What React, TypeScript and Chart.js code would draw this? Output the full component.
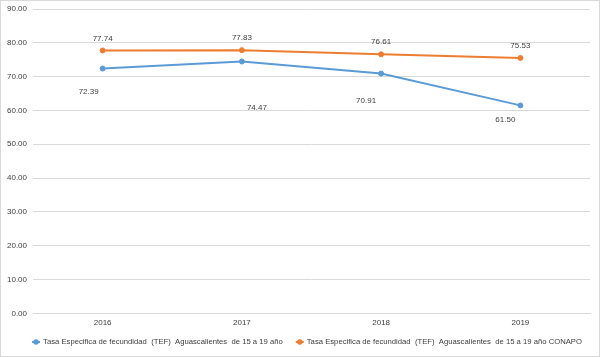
import React, { useEffect, useRef } from "react";
import { Chart, registerables } from "chart.js";

Chart.register(...registerables);

const categories = ["2016", "2017", "2018", "2019"];
const seriesAgs = [72.39, 74.47, 70.91, 61.5];
const seriesConapo = [77.74, 77.83, 76.61, 75.53];
const labelAgs = "Tasa Especifica de fecundidad  (TEF)  Aguascalientes  de 15 a 19 año";
const labelConapo = "Tasa Especifica de fecundidad  (TEF)  Aguascalientes  de 15 a 19 año CONAPO";

const FONT_FAMILY = "'Liberation Sans', Arial, sans-serif";

// label offsets (style) for data labels of the first series
const agsLabelOffsets = [
  [-14, 23],
  [15, 46],
  [-15, 27],
  [-15, 14],
];

const dataLabelPlugin = {
  id: "dataLabels",
  afterDatasetsDraw(chart: any) {
    const ctx = chart.ctx;
    ctx.save();
    ctx.font = `8px ${FONT_FAMILY}`;
    ctx.fillStyle = "#404040";
    ctx.textAlign = "center";
    ctx.textBaseline = "middle";
    chart.data.datasets.forEach((ds: any, di: number) => {
      const meta = chart.getDatasetMeta(di);
      meta.data.forEach((pt: any, i: number) => {
        const v = ds.data[i] as number;
        let dx = 0;
        let dy = -12;
        if (di === 0) {
          dx = agsLabelOffsets[i][0];
          dy = agsLabelOffsets[i][1];
        }
        ctx.fillText(v.toFixed(2), pt.x + dx, pt.y + dy);
      });
    });
    ctx.restore();
  },
};

const customLegendPlugin = {
  id: "customLegend",
  afterDraw(chart: any) {
    const ctx = chart.ctx;
    ctx.save();
    ctx.font = `7.7px ${FONT_FAMILY}`;
    ctx.textBaseline = "middle";
    ctx.textAlign = "left";
    const markerW = 8;
    const gap = 3;
    const itemGap = 13;
    const items = chart.data.datasets.map((ds: any) => ({
      text: ds.label as string,
      color: ds.borderColor as string,
      w: markerW + gap + ctx.measureText(ds.label).width,
    }));
    const total = items.reduce((s: number, it: any) => s + it.w, 0) + itemGap * (items.length - 1);
    let x = chart.width / 2 + 7 - total / 2;
    const y = chart.height - 14;
    items.forEach((it: any) => {
      ctx.strokeStyle = it.color;
      ctx.lineWidth = 2;
      ctx.beginPath();
      ctx.moveTo(x, y);
      ctx.lineTo(x + markerW, y);
      ctx.stroke();
      ctx.fillStyle = it.color;
      ctx.beginPath();
      ctx.arc(x + markerW / 2, y, 2.7, 0, Math.PI * 2);
      ctx.fill();
      ctx.fillStyle = "#404040";
      ctx.fillText(it.text, x + markerW + gap, y);
      x += it.w + itemGap;
    });
    ctx.restore();
  },
};

export default function App() {
  const ref = useRef<HTMLCanvasElement | null>(null);
  useEffect(() => {
    if (!ref.current) return;
    const font = { family: FONT_FAMILY, size: 8 };
    const chart = new Chart(ref.current, {
      type: "line",
      data: {
        labels: categories,
        datasets: [
          {
            label: labelAgs,
            data: seriesAgs,
            borderColor: "#5B9BD5",
            backgroundColor: "#5B9BD5",
            borderWidth: 2,
            pointRadius: 2.5,
            pointBorderWidth: 1,
            pointBackgroundColor: "#5B9BD5",
            pointBorderColor: "#5B9BD5",
            tension: 0,
          },
          {
            label: labelConapo,
            data: seriesConapo,
            borderColor: "#ED7D31",
            backgroundColor: "#ED7D31",
            borderWidth: 2,
            pointRadius: 2.5,
            pointBorderWidth: 1,
            pointBackgroundColor: "#ED7D31",
            pointBorderColor: "#ED7D31",
            tension: 0,
          },
        ],
      },
      options: {
        animation: false,
        responsive: true,
        maintainAspectRatio: false,
        layout: { autoPadding: false, padding: { top: 8, right: 9, left: 0, bottom: 23 } },
        plugins: {
          legend: { display: false },
          tooltip: { enabled: false },
        },
        scales: {
          x: {
            offset: true,
            grid: { display: false, drawTicks: false },
            border: { color: "#d9d9d9" },
            ticks: { color: "#404040", font, padding: 5 },
          },
          y: {
            min: 0,
            max: 90,
            afterFit: (s: any) => {
              s.paddingTop = 0;
              s.paddingBottom = 0;
            },
            ticks: {
              stepSize: 10,
              color: "#404040",
              font,
              padding: 6,
              callback: (v: any) => Number(v).toFixed(2),
            },
            grid: { color: "#d9d9d9", drawTicks: false },
            border: { display: false },
          },
        },
      },
      plugins: [dataLabelPlugin, customLegendPlugin],
    });
    return () => chart.destroy();
  }, []);
  return (
    <div
      style={{
        position: "absolute",
        left: 0,
        top: 0,
        width: 600,
        height: 357,
        boxSizing: "border-box",
        border: "1px solid #d9d9d9",
        background: "#fff",
      }}
    >
      <canvas ref={ref} />
    </div>
  );
}
